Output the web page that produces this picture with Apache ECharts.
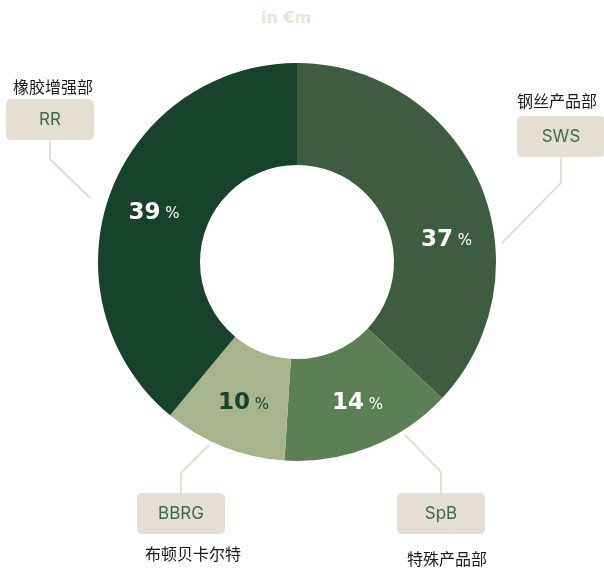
<!DOCTYPE html>
<html>
<head>
<meta charset="utf-8">
<script src="https://cdn.jsdelivr.net/npm/echarts@6/dist/echarts.min.js"></script>
<style>
html,body{margin:0;padding:0;background:#fff;}
#chart{width:604px;height:569px;}
</style>
</head>
<body>
<div id="chart"></div>
<script>
// ---- data ----
var codes = ['SWS', 'SpB', 'BBRG', 'RR'];
var namesCN = ['钢丝产品部', '特殊产品部', '布顿贝卡尔特', '橡胶增强部'];
var shares = [37, 14, 10, 39];
var unitTitle = 'in €m';

// ---- style / layout ----
var colors = ['#3d5c40', '#5d7f55', '#a8b58c', '#17432c'];
var pctColors = ['#ffffff', '#ffffff', '#17432c', '#ffffff'];
var pctOffsets = [[11, 38], [5, 1], [2, 1], [-1, 2]];
var boxFill = '#e4dfd2';
var boxText = '#3f6a48';
// label block layout: anchor point, vertical align, name line height, name x shift, leader points
var labelLayouts = [
  {x: 561, y: 157, va: 'bottom', nameLH: 30, nameShift: -8, pts: [[502, 243], [561, 183], [561, 157]]},
  {x: 441, y: 493, va: 'top', nameLH: 50, nameShift: 12, pts: [[405, 435], [441, 472], [441, 493]]},
  {x: 181, y: 493, va: 'top', nameLH: 40, nameShift: 24, pts: [[209, 445], [181, 473], [181, 493]]},
  {x: 50, y: 140, va: 'bottom', nameLH: 24, nameShift: 6, pts: [[90, 198], [50, 159], [50, 140]]}
];

var chart = echarts.init(document.getElementById('chart'), null, {renderer: 'canvas'});

var innerData = codes.map(function (c, i) {
  return {
    name: c,
    value: shares[i],
    itemStyle: {color: colors[i]},
    label: {
      offset: pctOffsets[i],
      formatter: '{v|' + shares[i] + '}{p| %}',
      rich: {
        v: {fontFamily: 'DejaVu Sans', fontWeight: 'bold', fontSize: 23, color: pctColors[i]},
        p: {fontFamily: 'DejaVu Sans', fontSize: 15, color: pctColors[i], padding: [3, 0, 0, 0]}
      }
    }
  };
});

var outerData = codes.map(function (c, i) {
  var L = labelLayouts[i];
  var nameStyle = {
    fontFamily: 'Noto Sans CJK SC', fontSize: 16, color: '#1a1a1a',
    lineHeight: L.nameLH, height: L.nameLH,
    padding: L.nameShift >= 0 ? [0, 0, 0, L.nameShift] : [0, -L.nameShift, 0, 0]
  };
  var boxStyle = {
    fontFamily: 'Inter', fontSize: 17, color: boxText,
    backgroundColor: boxFill, borderRadius: 5,
    width: 88, height: 41, lineHeight: 41, align: 'center'
  };
  var fmt = L.va === 'bottom' ? '{n|' + namesCN[i] + '}\n{b|' + c + '}' : '{b|' + c + '}\n{n|' + namesCN[i] + '}';
  return {
    name: c,
    value: shares[i],
    label: {formatter: fmt, rich: {n: nameStyle, b: boxStyle}}
  };
});

var option = {
  animation: false,
  title: {
    text: unitTitle,
    left: 256, top: 6,
    textStyle: {fontFamily: 'DejaVu Sans', fontWeight: 'bold', fontSize: 16, color: '#e8e4da'}
  },
  series: [
    {
      type: 'pie',
      center: [297, 262],
      radius: [97, 199],
      startAngle: 90,
      clockwise: true,
      silent: true,
      data: innerData,
      label: {show: true, position: 'inside'},
      labelLine: {show: false}
    },
    {
      type: 'pie',
      center: [297, 262],
      radius: [97, 199],
      startAngle: 90,
      clockwise: true,
      silent: true,
      avoidLabelOverlap: false,
      itemStyle: {color: 'rgba(0,0,0,0)', borderWidth: 0},
      data: outerData,
      label: {show: true, position: 'outside', align: 'center', overflow: 'none', alignTo: 'none', bleedMargin: 0},
      labelLine: {show: true, lineStyle: {color: boxFill, width: 2, opacity: 1}},
      labelLayout: function (p) {
        var L = labelLayouts[p.dataIndex];
        return {
          x: L.x, y: L.y,
          align: 'center',
          verticalAlign: L.va,
          hideOverlap: false,
          labelLinePoints: L.pts
        };
      }
    }
  ]
};
chart.setOption(option);
</script>
</body>
</html>
